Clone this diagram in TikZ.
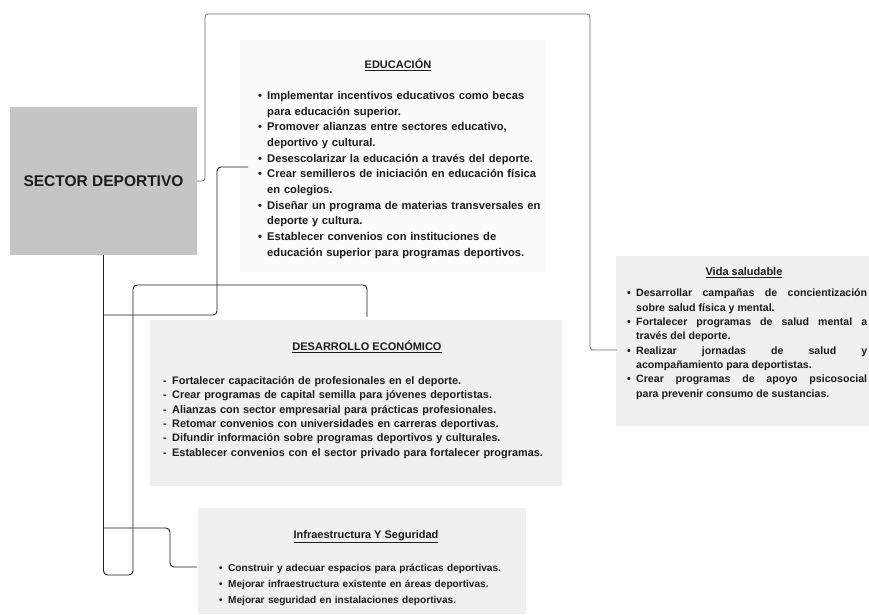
\documentclass[tikz,border=0pt]{standalone}
\usepackage{fontspec}
\setmainfont{Liberation Sans}
\usepackage{xcolor}
\usepackage{tikz}
\usetikzlibrary{positioning}
\definecolor{sink}{HTML}{1C1C1C}
\definecolor{sgrey}{HTML}{6A6A6A}
\definecolor{sbox}{HTML}{C5C5C5}
\definecolor{spanel}{HTML}{F0F0F0}
\definecolor{sfaint}{HTML}{FBFBFB}
\newcommand{\sitem}[2][•]{\hangindent=9pt\hangafter=1\noindent\makebox[9pt][l]{#1}#2\par}

\begin{document}
\begin{tikzpicture}[x=1pt,y=-1pt,
  every node/.style={font=\bfseries,text=sink,inner sep=0pt},
  link/.style={draw=sink,line width=0.9pt,rounded corners=4pt},
  faint/.style={draw=sgrey,line width=0.8pt,rounded corners=3pt},
  titel/.style={font=\fontsize{11}{13}\selectfont\bfseries},
  lista/.style={anchor=north west,align=left}]
  \useasboundingbox (0,0) rectangle (869,614);
  \fill[white] (0,0) rectangle (869,614);

  % panels
  \fill[sfaint] (240,40) rectangle (546,272);
  \fill[spanel] (150,320) rectangle (562,486);
  \fill[spanel] (616,256) rectangle (869,426);
  \fill[spanel] (198,508) rectangle (526,614);

  % sector
  \node[fill=sbox,minimum width=187pt,minimum height=148pt,
        font=\fontsize{15.5}{18}\selectfont\bfseries] (sector) at (103.5,181) {SECTOR DEPORTIVO};

  % educacion
  \node[titel] (eduTitle) at (398,65) {\underline{EDUCACIÓN}};
  \node[lista,text width=290pt,font=\fontsize{11.2}{15.7}\selectfont\bfseries] (eduList) at (258,91) {%
    \sitem{Implementar incentivos educativos como becas\newline para educación superior.}
    \sitem{Promover alianzas entre sectores educativo,\newline deportivo y cultural.}
    \sitem{Desescolarizar la educación a través del deporte.}
    \sitem{Crear semilleros de iniciación en educación física\newline en colegios.}
    \sitem{Diseñar un programa de materias transversales en\newline deporte y cultura.}
    \sitem{Establecer convenios con instituciones de\newline educación superior para programas deportivos.}};

  % vida saludable
  \node[titel] (vidaTitle) at (744,273) {\underline{Vida saludable}};
  \node[anchor=north west,align=justify,text width=240pt,font=\fontsize{10.6}{14.3}\selectfont\bfseries] (vidaList) at (627,289) {%
    \sitem{Desarrollar campañas de concientización\linebreak sobre salud física y mental.}
    \sitem{Fortalecer programas de salud mental a\linebreak través del deporte.}
    \sitem{Realizar jornadas de salud y\linebreak acompañamiento para deportistas.}
    \sitem{Crear programas de apoyo psicosocial\linebreak para prevenir consumo de sustancias.}};

  % desarrollo economico
  \node[titel] (desTitle) at (367,347) {\underline{DESARROLLO ECONÓMICO}};
  \node[lista,text width=395pt,font=\fontsize{10.9}{14.4}\selectfont\bfseries] (desList) at (163,376) {%
    \sitem[-]{Fortalecer capacitación de profesionales en el deporte.}
    \sitem[-]{Crear programas de capital semilla para jóvenes deportistas.}
    \sitem[-]{Alianzas con sector empresarial para prácticas profesionales.}
    \sitem[-]{Retomar convenios con universidades en carreras deportivas.}
    \sitem[-]{Difundir información sobre programas deportivos y culturales.}
    \sitem[-]{Establecer convenios con el sector privado para fortalecer programas.}};

  % infraestructura
  \node[titel] (infTitle) at (366,537) {\underline{Infraestructura Y Seguridad}};
  \node[lista,text width=300pt,font=\fontsize{10.1}{16}\selectfont\bfseries] (infList) at (219,564) {%
    \sitem{Construir y adecuar espacios para prácticas deportivas.}
    \sitem{Mejorar infraestructura existente en áreas deportivas.}
    \sitem{Mejorar seguridad en instalaciones deportivas.}};

  % connectors
  \draw[faint,shorten >=10pt] (sector.east) -- (205,181) |- (590,14) |- (vidaList.west |- 0,350);
  \draw[link,shorten >=24pt] (sector.south) -- (sector.south |- 0,575) -- (133,575) -- (133,285) -| (desTitle.north);
  \draw[link,shorten >=10pt] (sector.south |- 0,315) -- (217,315) |- (eduList.west |- 0,167);
  \draw[link,shorten >=22pt] (sector.south |- 0,528) -- (170,528) |- (infList.west |- 0,567);
\end{tikzpicture}
\end{document}
